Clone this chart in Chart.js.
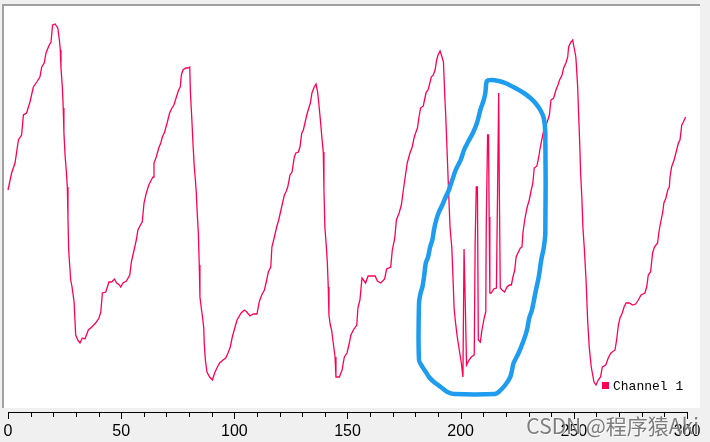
<!DOCTYPE html>
<html>
<head>
<meta charset="utf-8">
<script src="https://cdn.jsdelivr.net/npm/chart.js@4"></script>
<style>
  html, body { margin: 0; padding: 0; background: #f0f0f0; }
  #wrap { width: 710px; height: 442px; }
</style>
</head>
<body>
<div id="wrap"><canvas id="chart" width="710" height="442"></canvas></div>
<script>
// Channel 1 samples (x = sample index, y = raw level)
const sampleX = [
  0, 1.6, 3.1, 4.6, 6, 6.8, 8.2, 9.7, 11.2, 12.7, 14.1, 14.9, 16, 16.8, 18.2, 19, 19.7, 20.8, 22, 22.7,
  23.1, 23.4, 24, 24.4, 24.7, 25.2, 25.8, 26.2, 26.5, 26.8, 27.3, 27.7, 28.3, 29.2, 29.9, 30.8, 31.8, 32.8, 34, 35.5,
  37, 38.7, 40.2, 41, 41.7, 43.2, 44.6, 45.8, 47, 48, 49.2, 49.8, 50.8, 52.3, 53.8, 54.5, 55.7, 56.7, 57.4, 58.5,
  59.3, 60.1, 61.1, 62.2, 63.3, 64.1, 64.5, 65.5, 66.6, 67.5, 68.2, 69.2, 70.3, 71.4, 72.2, 73.3, 74.4, 75.4, 76.1, 76.6,
  77.3, 78.5, 79.5, 80.3, 80.6, 81.2, 81.7, 82.3, 82.8, 83.2, 83.6, 84.1, 84.5, 84.8, 85.4, 86, 86.5, 86.7, 87.2, 87.9,
  89.1, 90.3, 91.3, 92.3, 93.5, 95, 96.2, 97.2, 98.2, 99.1, 100.2, 101.2, 103, 104.4, 105.5, 106.9, 108.4, 110, 111, 112.1,
  113.3, 114.3, 115, 116.1, 116.6, 117.7, 118.7, 119.6, 120.6, 121.4, 122.1, 122.8, 123.6, 124.6, 125.5, 126.5, 127.2, 128.3, 129, 129.8,
  130.5, 131.2, 132, 132.9, 133.6, 134.3, 135.3, 136.1, 136.8, 137.3, 137.9, 138.7, 139.3, 139.6, 140, 140.6, 141.1, 141.5, 141.8, 142.4,
  143, 143.4, 144, 144.5, 144.9, 146.4, 147.6, 148.6, 149.8, 150.8, 151.5, 152.6, 154.1, 154.6, 155.5, 156.4, 158, 159.1, 160.3, 162.2,
  163.2, 164.7, 166.4, 167.3, 169.1, 169.8, 170.9, 171.6, 172.8, 173.8, 174.5, 175.3, 176.4, 177.6, 178.6, 179.4, 180.1, 180.9, 181.6, 182.3,
  183.5, 184.2, 184.8, 185.6, 186.5, 187, 187.9, 188.7, 189.4, 190, 190.9, 191.5, 192.4, 193, 193.4, 194.1, 194.7, 195.3, 196.1, 196.6,
  197.1, 197.6, 198.5, 199.4, 200.3, 201, 201.5, 201.9, 202.1, 202.6, 203.7, 204.7, 206, 206.4, 206.9, 207.4, 207.8, 208.7, 209.4, 210.5,
  211.1, 211.3, 211.9, 212.3, 212.6, 212.9, 213.5, 214.6, 215.8, 216.3, 216.8, 217.1, 217.5, 218.3, 219.4, 220.5, 221.5, 222.4, 223.1, 223.9,
  224.5, 225.3, 226.4, 227.1, 227.5, 228.3, 229.3, 230.3, 231.2, 231.9, 232.5, 233.7, 234.5, 235.2, 236, 237, 238.1, 239.2, 239.9, 241.1,
  242.1, 243, 243.7, 244.8, 245.5, 246.5, 247.3, 247.7, 248.7, 249.5, 249.9, 250.9, 251.7, 252.1, 252.6, 253, 253.6, 254, 254.6, 255.4,
  256.1, 256.8, 257.7, 258.9, 259.8, 260.8, 261.8, 262.6, 264.1, 265.2, 266.4, 268.2, 268.9, 269.7, 270.4, 271.4, 272.2, 273.1, 274.5, 276,
  277.3, 278.5, 279.7, 281.4, 282.2, 282.9, 283.9, 284.8, 285.6, 287, 287.6, 288.4, 289.3, 289.8, 290.7, 291.5, 292.2, 292.5, 293.2, 294.3,
  295.1, 296.2, 296.9, 297.7, 298.4, 299.4
];
const channel1 = [
  218, 235, 245, 268, 273, 293, 295, 306, 321, 326, 331, 341, 345, 355, 363, 366, 383, 384, 380, 368,
  358, 340, 321, 300, 276, 253, 236, 221, 190, 158, 141, 128, 121, 106, 73, 68, 65, 70, 69, 78,
  81, 85, 90, 96, 115, 116, 126, 126, 129, 125, 123, 121, 125, 127, 133, 146, 158, 168, 178, 183,
  186, 205, 215, 223, 228, 231, 245, 251, 260, 265, 271, 276, 285, 295, 299, 303, 311, 318, 321, 333,
  338, 340, 340, 341, 315, 290, 266, 241, 228, 215, 195, 175, 143, 111, 100, 90, 80, 65, 48, 36,
  31, 28, 35, 40, 45, 48, 50, 55, 61, 71, 80, 88, 95, 98, 96, 92, 94, 94, 106, 113,
  118, 128, 136, 141, 161, 171, 181, 188, 198, 206, 213, 216, 221, 233, 236, 251, 255, 256, 261, 275,
  278, 285, 293, 300, 305, 315, 321, 324, 316, 305, 291, 270, 256, 218, 181, 163, 145, 121, 93, 83,
  78, 70, 60, 51, 31, 31, 38, 51, 55, 65, 73, 78, 83, 100, 108, 130, 125, 132, 132, 132,
  127, 125, 129, 139, 141, 158, 170, 188, 195, 203, 215, 228, 245, 255, 261, 270, 275, 280, 291, 300,
  302, 310, 316, 318, 326, 331, 333, 338, 348, 353, 357, 353, 346, 311, 293, 251, 215, 181, 160, 131,
  100, 88, 71, 58, 45, 31, 159, 159, 98, 43, 48, 51, 53, 165, 221, 221, 68, 66, 78, 91,
  96, 181, 273, 273, 191, 115, 115, 119, 120, 216, 315, 215, 120, 118, 116, 121, 123, 123, 131, 138,
  151, 155, 160, 161, 175, 188, 200, 208, 218, 225, 240, 242, 251, 261, 270, 281, 285, 293, 308, 310,
  318, 323, 328, 333, 340, 345, 351, 361, 366, 368, 363, 351, 321, 295, 265, 235, 208, 181, 161, 128,
  88, 61, 41, 26, 23, 28, 31, 41, 43, 50, 55, 58, 68, 83, 90, 95, 101, 105, 105, 103,
  104, 108, 113, 115, 121, 133, 136, 155, 161, 165, 176, 186, 196, 205, 210, 218, 221, 231, 241, 248,
  255, 265, 268, 283, 286, 291
];

// hand-drawn blue ring around the glitch region (same x/y units as the data)
const markX = [
  203.7, 205.4, 207.2, 208.7, 210.2, 210.9, 211.6, 213.8, 216.8, 219.7, 224.1, 227.9, 230.8, 233.0, 235.2, 236.7, 237.4, 237.4, 236.7, 235.6,
  234.5, 233.0, 231.5, 230.3, 229.3, 227.9, 225.6, 223.4, 222.7, 221.9, 219.7, 216.8, 215.2, 197.1, 194.1, 191.2, 188.2, 186.0, 184.6, 183.1,
  181.6, 181.6, 182.3, 183.1, 183.8, 184.6, 185.6, 186.5, 187.5, 188.2, 189.2, 190.4, 191.9, 193.4, 194.8, 196.3, 197.8, 200.0, 201.5, 203.7
];
const markY = [
  268, 275, 285, 298, 308, 315, 327, 328, 327, 325, 320, 315, 310, 305, 298, 290, 275, 175, 160, 148,
  131, 115, 98, 90, 78, 68, 55, 45, 38, 31, 23, 16, 14, 14, 16, 21, 26, 31, 36, 41,
  48, 105, 115, 121, 131, 145, 151, 161, 168, 178, 188, 196, 203, 211, 218, 228, 238, 248, 258, 268
];

const xTickValues = [0, 50, 100, 150, 200, 250, 300];
const LINE_COLOR = '#ff0055';
const MARK_COLOR = '#1e9cf0';

// white plot box with a sunken border, axis line and tick marks, legend, watermark
const framePlugin = {
  id: 'frame',
  beforeDraw(chart) {
    const { ctx, chartArea: a } = chart;
    ctx.save();
    ctx.fillStyle = '#f0f0f0';
    ctx.fillRect(0, 0, chart.width, chart.height);
    ctx.fillStyle = '#ffffff';
    ctx.fillRect(a.left, a.top, a.right - a.left, a.bottom - a.top);
    ctx.fillStyle = '#a0a0a0';
    ctx.fillRect(a.left - 2, a.top - 2, a.right - a.left + 2, 2);
    ctx.fillRect(a.left - 2, a.top - 2, 2, a.bottom - a.top + 2);
    ctx.restore();
  },
  afterDraw(chart) {
    const { ctx, chartArea: a } = chart;
    const xs = chart.scales.x;
    const axisY = a.bottom + 4;
    ctx.save();
    ctx.strokeStyle = '#000';
    ctx.lineWidth = 1;
    ctx.beginPath();
    ctx.moveTo(Math.round(xs.getPixelForValue(0)), axisY + 0.5);
    ctx.lineTo(Math.round(xs.getPixelForValue(300)) + 1, axisY + 0.5);
    for (let v = 0; v <= 300; v += 10) {
      const px = Math.round(xs.getPixelForValue(v)) + 0.5;
      const len = v % 50 === 0 ? 7 : 5;
      ctx.moveTo(px, axisY);
      ctx.lineTo(px, axisY + len);
    }
    ctx.stroke();

    // legend
    const ds = chart.data.datasets[0];
    ctx.fillStyle = ds.borderColor;
    ctx.fillRect(a.right - 98, a.bottom - 26, 7, 7);
    ctx.fillStyle = '#000';
    ctx.font = '13px "Liberation Mono"';
    ctx.textBaseline = 'alphabetic';
    ctx.fillText(ds.label, a.right - 87, a.bottom - 18);

    // watermark
    ctx.font = '21px "Noto Sans CJK SC"';
    ctx.textAlign = 'right';
    ctx.shadowColor = 'rgba(255,255,255,0.9)';
    ctx.shadowOffsetX = 1;
    ctx.shadowOffsetY = 1;
    ctx.fillStyle = 'rgba(95,95,95,0.8)';
    ctx.fillText('CSDN @程序猿Aki', 699, 434);
    ctx.restore();
  }
};

new Chart(document.getElementById('chart'), {
  type: 'line',
  data: {
    datasets: [
      {
        label: 'Channel 1',
        data: sampleX.map((x, i) => ({ x: x, y: channel1[i] })),
        borderColor: LINE_COLOR,
        borderWidth: 1.3,
        pointRadius: 0,
        tension: 0,
        order: 1
      },
      {
        label: 'mark',
        data: markX.map((x, i) => ({ x: x, y: markY[i] })),
        borderColor: MARK_COLOR,
        borderWidth: 4.5,
        borderJoinStyle: 'round',
        borderCapStyle: 'round',
        pointRadius: 0,
        tension: 0.25,
        order: 0
      }
    ]
  },
  options: {
    responsive: false,
    animation: false,
    layout: { padding: { left: 4, right: 10, top: 6, bottom: 0 } },
    scales: {
      x: {
        type: 'linear',
        min: -1.77,
        max: 305.75,
        grid: { display: false, drawTicks: false },
        border: { display: false },
        afterBuildTicks: (scale) => {
          scale.ticks = xTickValues.map(v => ({ value: v }));
        },
        afterFit: (scale) => {
          scale.height = 34;
          scale.paddingLeft = 0;
          scale.paddingRight = 0;
        },
        ticks: {
          color: '#000',
          padding: 14,
          maxRotation: 0,
          autoSkip: false,
          font: { family: '"Liberation Sans"', size: 16 }
        }
      },
      y: {
        display: false,
        min: 0,
        max: 402
      }
    },
    plugins: {
      legend: { display: false },
      tooltip: { enabled: false }
    }
  },
  plugins: [framePlugin]
});
</script>
</body>
</html>
